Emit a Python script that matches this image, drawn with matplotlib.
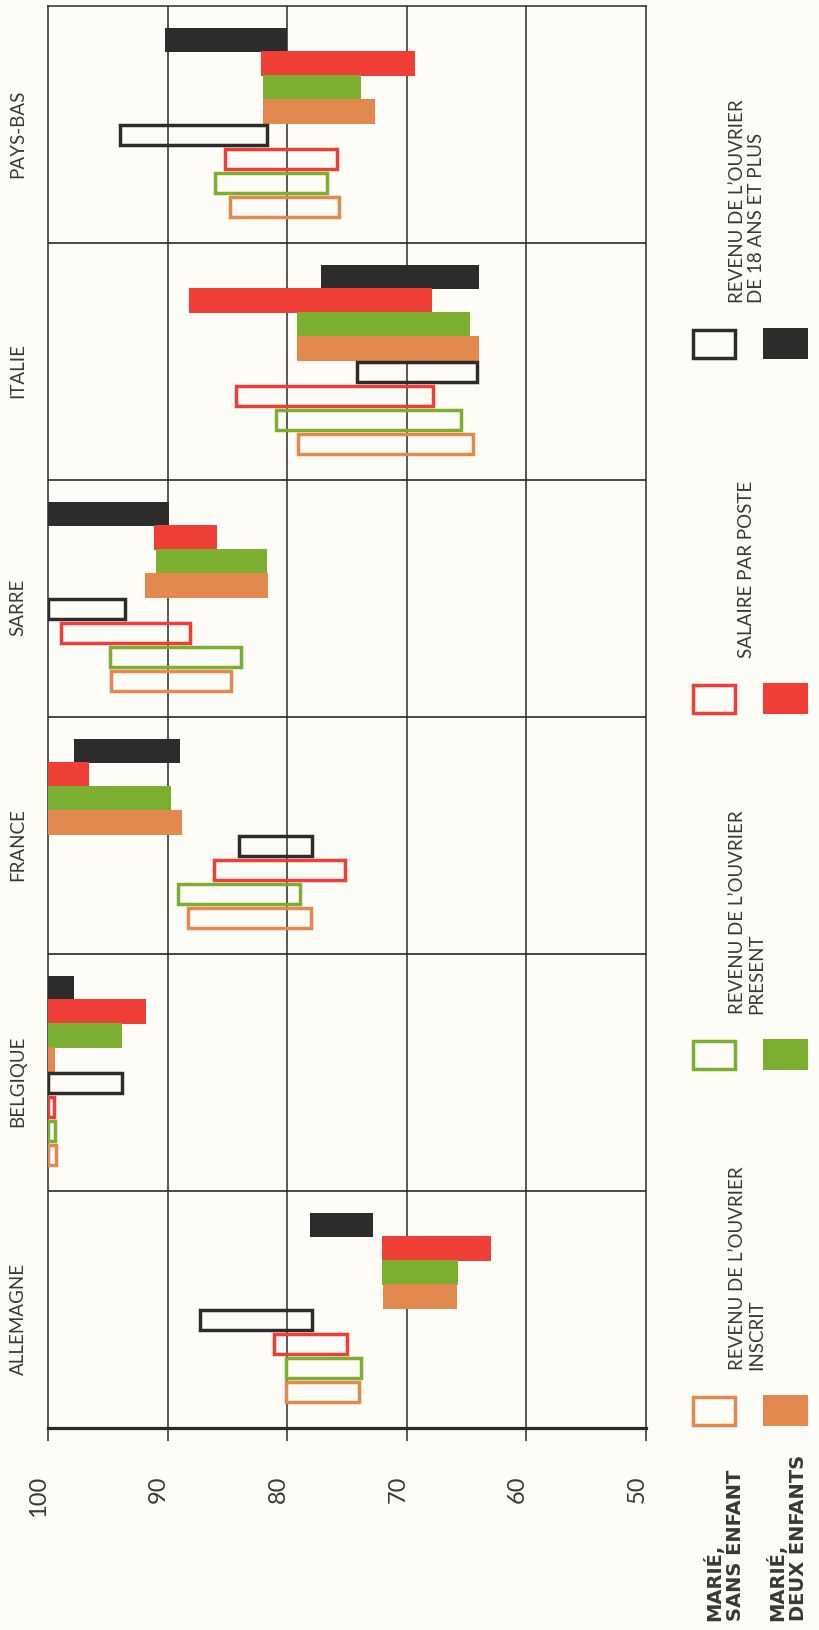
import matplotlib
matplotlib.use("Agg")
import matplotlib.pyplot as plt
import matplotlib.transforms as mtransforms
from matplotlib.patches import Rectangle

# ---------------------------------------------------------------- data
pays = ["ALLEMAGNE", "BELGIQUE", "FRANCE", "SARRE", "ITALIE", "PAYS-BAS"]

# Index ranges (upper end, lower end), one value per country
noir_deux_haut = [78.1, 100.0, 97.8, 100.0, 77.2, 90.2]
noir_deux_bas = [72.8, 97.8, 89.0, 89.9, 64.0, 80.0]
rouge_deux_haut = [72.1, 100.0, 100.0, 91.1, 88.2, 82.2]
rouge_deux_bas = [63.0, 91.8, 96.6, 85.9, 67.9, 69.3]
vert_deux_haut = [72.1, 100.0, 100.0, 91.0, 79.2, 82.0]
vert_deux_bas = [65.7, 93.8, 89.7, 81.7, 64.7, 73.8]
orange_deux_haut = [72.0, 100.0, 100.0, 91.9, 79.2, 82.0]
orange_deux_bas = [65.8, 99.4, 88.8, 81.6, 64.0, 72.7]

noir_sans_haut = [87.3, 100.0, 84.0, 100.0, 74.2, 94.0]
noir_sans_bas = [77.9, 93.8, 77.9, 93.6, 64.1, 81.7]
rouge_sans_haut = [81.1, 100.0, 86.1, 98.9, 84.3, 85.2]
rouge_sans_bas = [75.0, 99.5, 75.2, 88.1, 67.8, 75.8]
vert_sans_haut = [80.1, 100.0, 89.1, 94.8, 80.9, 86.0]
vert_sans_bas = [73.8, 99.4, 78.9, 83.9, 65.5, 76.7]
orange_sans_haut = [80.1, 100.0, 88.3, 94.7, 79.1, 84.8]
orange_sans_bas = [74.0, 99.3, 78.0, 84.7, 64.5, 75.7]

graduations = [100, 90, 80, 70, 60, 50]

libelles_mesures = [
    "REVENU DE L\u2019OUVRIER\nDE 18 ANS ET PLUS",
    "SALAIRE PAR POSTE",
    "REVENU DE L\u2019OUVRIER\nPRESENT",
    "REVENU DE L\u2019OUVRIER\nINSCRIT",
]
libelle_sans = "MARI\u00c9,\nSANS ENFANT"
libelle_deux = "MARI\u00c9,\nDEUX ENFANTS"

# ---------------------------------------------------------------- style
NOIR = "#2d2b2b"
ROUGE = "#ef3e35"
VERT = "#7cae2f"
ORANGE = "#e2894f"
FOND = "#fdfcf6"
TRAIT = "#2a2a2a"
TEXTE = "#383838"

plt.rcParams["font.family"] = ["Lato", "DejaVu Sans"]

W, H = 819, 1631
fig = plt.figure(figsize=(W / 100, H / 100), dpi=100, facecolor=FOND)

x_left, x_right = 48, 646
y_top, y_bot = 7, 1429
ax = fig.add_axes([x_left / W, 1 - y_bot / H, (x_right - x_left) / W, (y_bot - y_top) / H])
ax.set_facecolor(FOND)
ax.set_xlim(100, 50)
ax.set_ylim(0, len(pays))

# series drawn from top to bottom inside each country block
series = [
    (noir_deux_haut, noir_deux_bas, NOIR, True),
    (rouge_deux_haut, rouge_deux_bas, ROUGE, True),
    (vert_deux_haut, vert_deux_bas, VERT, True),
    (orange_deux_haut, orange_deux_bas, ORANGE, True),
    (noir_sans_haut, noir_sans_bas, NOIR, False),
    (rouge_sans_haut, rouge_sans_bas, ROUGE, False),
    (vert_sans_haut, vert_sans_bas, VERT, False),
    (orange_sans_haut, orange_sans_bas, ORANGE, False),
]

marge_haut = 0.092
pas = 0.1008
lw_contour = 2.5

for k, (haut, bas, couleur, plein) in enumerate(series):
    ys = [i + 1 - marge_haut - (k + 0.5) * pas for i in range(len(pays))]
    largeurs = [h - b for h, b in zip(haut, bas)]
    if plein:
        ax.barh(ys, largeurs, left=bas, height=pas * 1.02, color=couleur,
                edgecolor="none", zorder=3)
    else:
        ax.barh(ys, largeurs, left=bas, height=pas - 0.015, fill=False,
                edgecolor=couleur, linewidth=lw_contour, zorder=4)

# grid: value lines and country separators
for v in graduations[1:-1]:
    ax.axvline(v, color=TRAIT, lw=1.1, zorder=1)
for i in range(1, len(pays)):
    ax.axhline(i, color=TRAIT, lw=1.2, zorder=1)

for side in ["left", "right", "top"]:
    ax.spines[side].set_color(TRAIT)
    ax.spines[side].set_linewidth(1.1)
ax.spines["bottom"].set_color(TRAIT)
ax.spines["bottom"].set_linewidth(2.3)

ax.set_yticks([])
ax.set_xticks(graduations)
ax.set_xticklabels([str(g) for g in graduations], rotation=90, fontsize=17,
                   color=TEXTE)
ax.tick_params(axis="x", direction="out", length=9.5, width=1.1, color=TRAIT,
               pad=24)
decalage = mtransforms.ScaledTranslation(-9 / 100, 0, fig.dpi_scale_trans)
for lab in ax.get_xticklabels():
    lab.set_transform(lab.get_transform() + decalage)
    lab.set_verticalalignment("top")

# country names
trans_pays = mtransforms.blended_transform_factory(fig.transFigure, ax.transData)
for i, nom in enumerate(pays):
    ax.text(18 / W, i + 0.5 - 8 / 237, nom, transform=trans_pays, rotation=90,
            ha="center", va="center", fontsize=13.5, color=TEXTE)

# ---------------------------------------------------------------- legend
leg = fig.add_axes([0, 0, 1, 1], facecolor="none")
leg.set_xlim(0, W)
leg.set_ylim(H, 0)
leg.axis("off")

couleurs_leg = [NOIR, ROUGE, VERT, ORANGE]
tops = [329, 684, 1040, 1396]
bw, bh = 45, 31
for couleur, top, texte in zip(couleurs_leg, tops, libelles_mesures):
    leg.add_patch(Rectangle((692.5, top + 1.5), bw - 3, bh - 3, fill=False,
                            edgecolor=couleur, linewidth=lw_contour))
    leg.add_patch(Rectangle((763, top), bw, bh, facecolor=couleur,
                            edgecolor="none"))
    leg.text(747, top - 26, texte, rotation=90, ha="center", va="bottom",
             multialignment="left", fontsize=13.5, color=TEXTE, linespacing=1.15)

for x_lab, lib in [(724, libelle_sans), (787, libelle_deux)]:
    leg.text(x_lab, 1621, lib, rotation=90, ha="center", va="bottom",
             multialignment="left", fontsize=14, fontweight="bold",
             family=["DejaVu Sans"], color=TEXTE, linespacing=1.1)

fig.savefig("out.png", dpi=100, facecolor=FOND)
